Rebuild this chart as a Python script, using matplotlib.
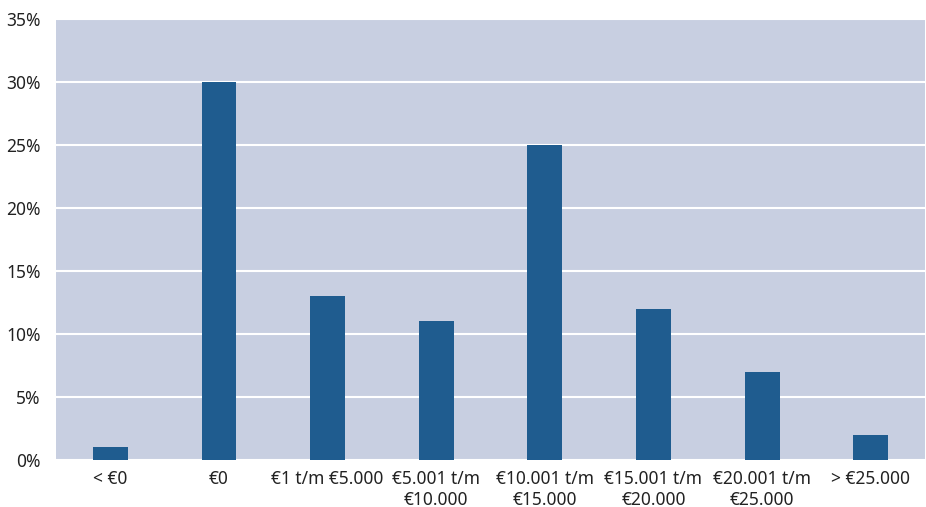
import matplotlib.pyplot as plt
import numpy as np

# categories and shares (%)
categories = ['< €0', '€0', '€1 t/m €5.000', '€5.001 t/m\n€10.000', '€10.001 t/m\n€15.000',
              '€15.001 t/m\n€20.000', '€20.001 t/m\n€25.000', '> €25.000']
shares = [1, 30, 13, 11, 25, 12, 7, 2]
yticks = [0, 5, 10, 15, 20, 25, 30, 35]

plt.rcParams['font.family'] = ['Noto Sans', 'DejaVu Sans']

fig = plt.figure(figsize=(9.26, 5.07), dpi=100)
ax = fig.add_axes([0.0605, 0.0927, 0.9385, 0.8698])
ax.set_facecolor('#C8CFE1')

x = np.arange(len(categories))
ax.bar(x, shares, width=0.32, color='#1F5C8F', zorder=3)

ax.set_xlim(-0.5, len(categories) - 0.5)
ax.set_ylim(0, 35)
ax.set_yticks(yticks)
ax.set_yticklabels([f'{v}%' for v in yticks])
ax.set_xticks(x)
ax.set_xticklabels(categories, linespacing=1.2)
ax.yaxis.grid(True, color='white', linewidth=1.5, zorder=1)
ax.tick_params(length=0, labelsize=12.5, colors='#222222')
ax.tick_params(axis='y', pad=11)
ax.tick_params(axis='x', pad=7)
for s in ax.spines.values():
    s.set_visible(False)

fig.savefig('out.png', dpi=100)
